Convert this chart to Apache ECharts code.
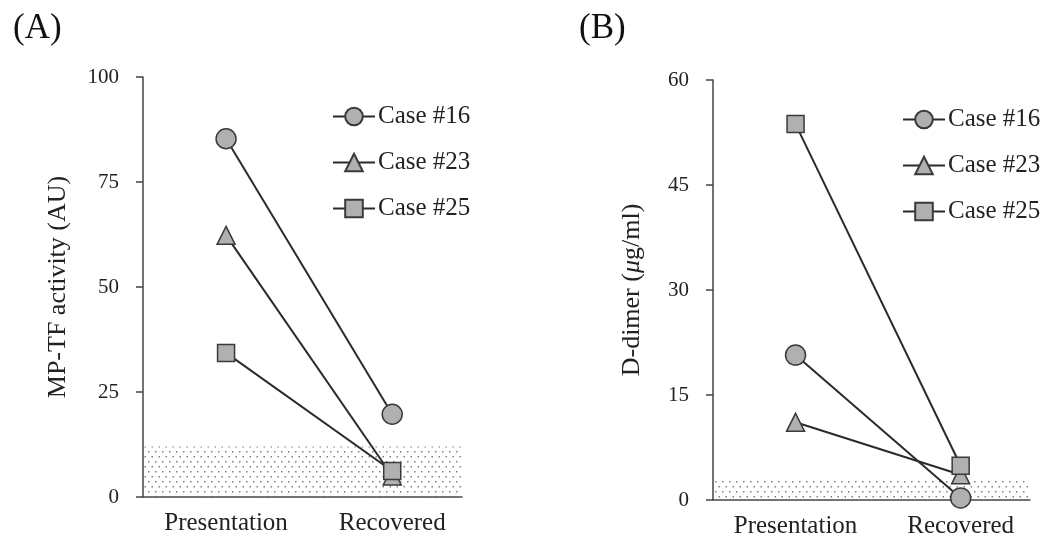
<!DOCTYPE html>
<html>
<head>
<meta charset="utf-8">
<script src="https://cdn.jsdelivr.net/npm/echarts@6/dist/echarts.min.js"></script>
<style>
  html, body { margin: 0; padding: 0; background: #fff; }
  #chart { width: 1044px; height: 540px; }
</style>
</head>
<body>
<div id="chart"></div>
<script>
// 分类
var categories = ['Presentation', 'Recovered'];
var caseNames = ['Case #16', 'Case #23', 'Case #25'];
var symbols = ['circle', 'triangle', 'rect'];

// (A) MP-TF activity
var mptf16 = [85.3, 19.7];
var mptf23 = [62.3, 5.0];
var mptf25 = [34.3, 6.2];
var mptfNormal = 12;
var mptfTicks = [0, 25, 50, 75, 100];

// (B) D-dimer
var dd16 = [20.7, 0.3];
var dd23 = [11.1, 3.6];
var dd25 = [53.7, 4.9];
var ddNormal = 3;
var ddTicks = [0, 15, 30, 45, 60];

var FONT = '"Liberation Serif", "DejaVu Serif", serif';

// 点阵图案
function dotPattern() {
	var c = document.createElement('canvas');
	c.width = 7; c.height = 10;
	var ctx = c.getContext('2d');
	ctx.fillStyle = '#808080';
	ctx.fillRect(1, 1, 1.5, 1.5);
	ctx.fillRect(4.5, 6, 1.5, 1.5);
	return c;
}
var pattern = { image: dotPattern(), repeat: 'repeat' };

function toPoints(arr) {
	return arr.map(function (v, i) { return [2 * i + 1, v]; });
}

function xAxis(idx) {
	return {
		type: 'value', gridIndex: idx, min: 0, max: 3.84, interval: 1,
		axisLine: { show: true, lineStyle: { color: '#444', width: 1.5 } },
		axisTick: { show: false },
		splitLine: { show: false },
		showMinLabel: true, showMaxLabel: false,
		axisLabel: {
			margin: 14, fontFamily: FONT, fontSize: 25, color: '#222',
			formatter: function (v) {
				if (v === 1) return categories[0];
				if (v === 3) return categories[1];
				return '';
			}
		}
	};
}

function yAxis(idx, ticks, name, gap) {
	return {
		type: 'value', gridIndex: idx,
		min: ticks[0], max: ticks[ticks.length - 1], interval: ticks[1] - ticks[0],
		name: name, nameLocation: 'middle', nameRotate: 90, nameGap: gap,
		nameTextStyle: {
			fontFamily: FONT, fontSize: 26, color: '#222',
			rich: { i: { fontFamily: FONT, fontSize: 26, fontStyle: 'italic', color: '#222' } }
		},
		axisLine: { show: true, lineStyle: { color: '#444', width: 1.5 } },
		axisTick: { show: true, length: 7, lineStyle: { color: '#444', width: 1.5 } },
		splitLine: { show: false },
		axisLabel: { margin: 24, fontFamily: FONT, fontSize: 21, color: '#222' }
	};
}

function lineSeries(name, sym, data, idx, markTop) {
	var sizes = { circle: 20, triangle: 18, rect: 17 };
	var s = {
		name: name, type: 'line', xAxisIndex: idx, yAxisIndex: idx,
		data: toPoints(data),
		symbol: sym, symbolSize: sizes[sym],
		lineStyle: { color: '#2a2a2a', width: 2 },
		itemStyle: { color: '#b0b0b0', borderColor: '#3a3a3a', borderWidth: 1.5 },
		emphasis: { disabled: true },
		z: 3
	};
	if (markTop != null) {
		s.markArea = {
			silent: true,
			itemStyle: { color: pattern },
			data: [[{ yAxis: 0 }, { yAxis: markTop }]]
		};
	}
	return s;
}

function legend(left, top) {
	return {
		data: caseNames, orient: 'vertical', left: left, top: top, padding: 0,
		itemWidth: 42, itemHeight: 22, itemGap: 21,
		textStyle: { fontFamily: FONT, fontSize: 25, color: '#222', padding: [0, 0, 0, -2] },
		selectedMode: false
	};
}

var chart = echarts.init(document.getElementById('chart'));
chart.setOption({
	animation: false,
	backgroundColor: '#fff',
	title: [
		{ text: '(A)', left: 8, top: 6, textStyle: { fontFamily: FONT, fontSize: 35, fontWeight: 'normal', color: '#111' } },
		{ text: '(B)', left: 574, top: 6, textStyle: { fontFamily: FONT, fontSize: 35, fontWeight: 'normal', color: '#111' } }
	],
	legend: [legend(332, 104), legend(902, 107)],
	grid: [
		{ left: 143, right: 582, top: 77, bottom: 43 },
		{ left: 713, right: 14, top: 80, bottom: 40 }
	],
	xAxis: [xAxis(0), xAxis(1)],
	yAxis: [
		yAxis(0, mptfTicks, 'MP-TF activity (AU)', 72),
		yAxis(1, ddTicks, 'D-dimer ({i|μ}g/ml)', 68)
	],
	series: [
		lineSeries(caseNames[0], symbols[0], mptf16, 0, mptfNormal),
		lineSeries(caseNames[1], symbols[1], mptf23, 0),
		lineSeries(caseNames[2], symbols[2], mptf25, 0),
		lineSeries(caseNames[0], symbols[0], dd16, 1, ddNormal),
		lineSeries(caseNames[1], symbols[1], dd23, 1),
		lineSeries(caseNames[2], symbols[2], dd25, 1)
	]
});
</script>
</body>
</html>
